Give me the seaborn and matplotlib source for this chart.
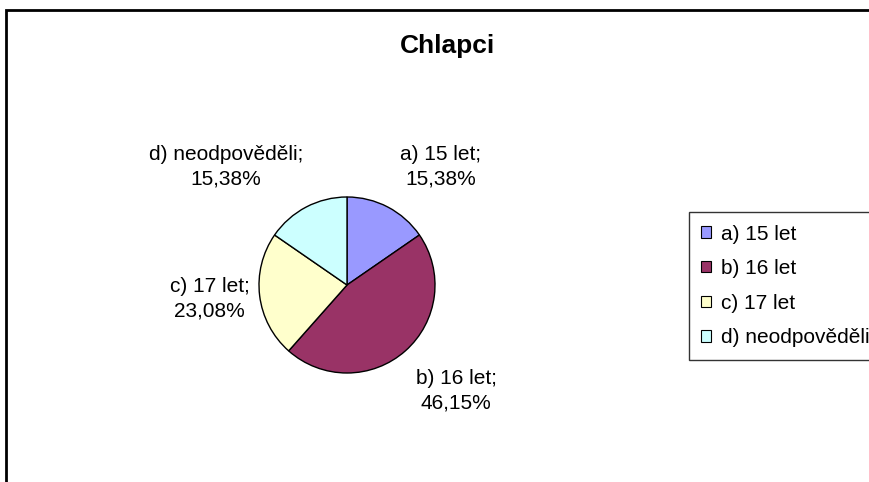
import matplotlib
matplotlib.use('Agg')
import matplotlib.pyplot as plt
import seaborn as sns
from matplotlib.patches import Rectangle

sns.set_theme(style='white')
plt.rcParams['font.family'] = ['Liberation Sans', 'DejaVu Sans']
plt.rcParams['text.color'] = 'black'

# data
title = 'Chlapci'
categories = ['a) 15 let', 'b) 16 let', 'c) 17 let', 'd) neodpověděli']
shares = [15.38, 46.15, 23.08, 15.38]
colors = ['#9999FF', '#993366', '#FFFFCC', '#CCFFFF']

# label placement, in pie radii from the centre
label_xy = [(1.06, 1.34), (1.24, -1.20), (-1.56, -0.16), (-1.375, 1.34)]

W, H = 870, 482
fig = plt.figure(figsize=(W / 100, H / 100), dpi=100)
fig.patch.set_facecolor('white')

# outer chart frame (cut by the right and bottom edge)
fig.patches.append(Rectangle((6 / W, -0.05), 1.2, 1 - 10 / H + 0.05,
                             transform=fig.transFigure, fill=False,
                             edgecolor='black', linewidth=2))

cx, cy, r = 347, 285, 88
ax = fig.add_axes([(cx - r) / W, (H - cy - r) / H, 2 * r / W, 2 * r / H])
wedges, _ = ax.pie(shares, colors=colors, startangle=90, counterclock=False,
                   wedgeprops=dict(edgecolor='black', linewidth=1))
ax.set_xlim(-1, 1)
ax.set_ylim(-1, 1)
ax.set_aspect('equal')
ax.axis('off')

for cat, val, (x, y) in zip(categories, shares, label_xy):
    txt = f'{cat};\n' + f'{val:.2f}%'.replace('.', ',')
    ax.text(x, y, txt, ha='center', va='center', fontsize=15,
            linespacing=1.35, color='black')

fig.text(448 / W, 1 - 46 / H, title, ha='center', va='center',
         fontsize=19, fontweight='bold', color='black')

leg = fig.legend(wedges, categories, loc='upper left',
                 bbox_to_anchor=(689 / W, 1 - 212 / H), borderaxespad=0,
                 fontsize=15, frameon=True, fancybox=False, shadow=False,
                 handlelength=0.45, handleheight=0.45, handletextpad=0.5,
                 labelspacing=0.75, borderpad=0.6)
leg.get_frame().set_edgecolor('black')
leg.get_frame().set_linewidth(1)
for t in leg.get_texts():
    t.set_color('black')
for h in leg.legend_handles:
    h.set_edgecolor('black')
    h.set_linewidth(0.8)

fig.savefig('out.png', dpi=100, facecolor='white')
